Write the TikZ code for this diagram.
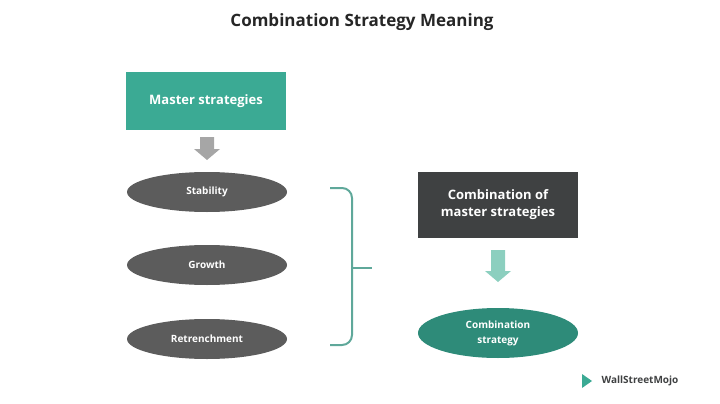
\documentclass[tikz,border=0pt]{standalone}
\usepackage{fontspec}
\setmainfont{Open Sans}
\usetikzlibrary{shapes.geometric,positioning}
\definecolor{teal1}{HTML}{3BAA94}
\definecolor{teal2}{HTML}{2E8B79}
\definecolor{teal3}{HTML}{8CCFBF}
\definecolor{dgray}{HTML}{5C5C5C}
\definecolor{bgray}{HTML}{3F4142}
\definecolor{brack}{HTML}{5FA89A}
\tikzset{
  box/.style={minimum width=160pt, align=center, text=white, font=\bfseries\fontsize{13}{17}\selectfont, inner sep=0pt},
  oval/.style={ellipse, fill=dgray, minimum width=160pt, minimum height=40pt, align=center, text=white, font=\bfseries\fontsize{10}{15}\selectfont, inner sep=0pt}
}
% block arrow pointing down: #1 colour, #2 x, #3 top y, #4 bottom y
\newcommand{\dnarrow}[4]{\fill[#1] (#2-7,#3) -- (#2+7,#3) -- (#2+7,#4-11) -- (#2+13,#4-11) -- (#2,#4) -- (#2-13,#4-11) -- (#2-7,#4-11) -- cycle;}
\begin{document}
\begin{tikzpicture}[x=1pt,y=-1pt]
\useasboundingbox (0,0) rectangle (720,404);
% Title
\node[font=\bfseries\fontsize{17}{20}\selectfont, text=black!85] (title) at (362,22) {Combination Strategy Meaning};
% Left column
\node[box, fill=teal1, minimum height=58pt] (master) at (206,101) {Master strategies};
\dnarrow{gray!70}{207}{137}{160}
\node[oval] (stab) at (207,192) {Stability};
\node[oval] (grow) at (207,265) {Growth};
\node[oval] (retr) at (207,339) {Retrenchment};
% Bracket
\coordinate (b1) at (330,188);
\coordinate (b2) at (330,345);
\coordinate (bm) at (372,268);
\draw[brack, line width=2pt, rounded corners=10pt] (b1) -| (352,268) |- (b2);
\draw[brack, line width=2pt] (352,268) -- (bm);
% Right column
\node[box, fill=bgray, minimum height=66pt] (comb) at (498,205) {Combination of\\master strategies};
\dnarrow{teal3}{498}{250}{282}
\node[oval, fill=teal2, minimum height=50pt] (cstr) at (498,333) {Combination\\strategy};
% Logo
\node[font=\bfseries\fontsize{10}{12}\selectfont, text=bgray, anchor=west] (logo) at (598,381) {WallStreetMojo};
\fill[teal1] (582,374) -- (592,381) -- (582,388) -- cycle;
\end{tikzpicture}
\end{document}
